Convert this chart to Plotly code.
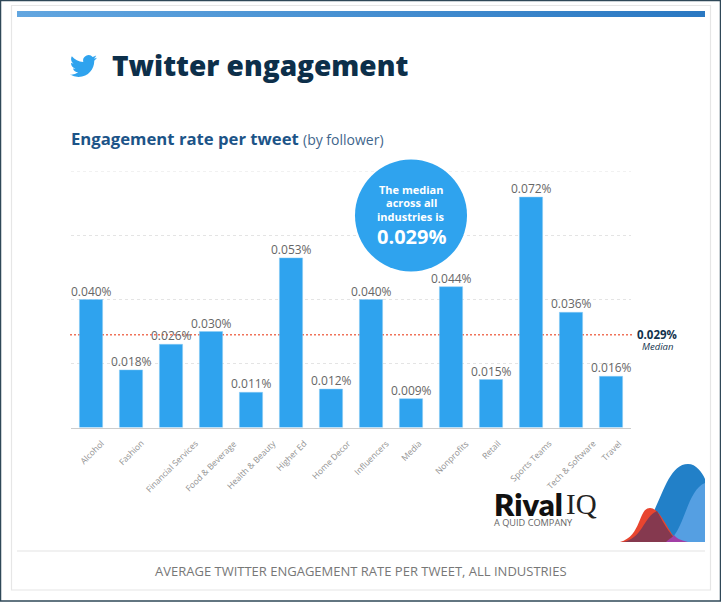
import base64

import plotly.graph_objects as go

WIDTH = 721
HEIGHT = 602

industries = [
    "Alcohol", "Fashion", "Financial Services", "Food & Beverage", "Health & Beauty",
    "Higher Ed", "Home Decor", "Influencers", "Media", "Nonprofits",
    "Retail", "Sports Teams", "Tech & Software", "Travel",
]
engagement = [0.040, 0.018, 0.026, 0.030, 0.011, 0.053, 0.012, 0.040, 0.009, 0.044, 0.015, 0.072, 0.036, 0.016]
median_rate = 0.029
y_ticks = [0, 0.02, 0.04, 0.06, 0.08]

BLUE = "#2fa3ee"
FONT = "Open Sans"


def px_x(x):
    return x / WIDTH


def px_y(y):
    return 1 - y / HEIGHT


def svg_uri(svg):
    return "data:image/svg+xml;base64," + base64.b64encode(svg.encode()).decode()


def note(x, y, text, size, color, anchor="center", weight=400, family=FONT):
    return dict(
        x=px_x(x), y=px_y(y), xref="paper", yref="paper", text=text, showarrow=False,
        xanchor=anchor, yanchor="middle", borderpad=0, borderwidth=0,
        font=dict(family=family, size=size, color=color, weight=weight),
    )


def picture(svg, x, y, w, h):
    return dict(
        source=svg_uri(svg), xref="paper", yref="paper", x=px_x(x), y=px_y(y),
        sizex=w / WIDTH, sizey=h / HEIGHT, xanchor="left", yanchor="top",
        sizing="stretch", layer="above",
    )


# the blue band along the top of the card
band_svg = """<svg xmlns="http://www.w3.org/2000/svg" width="688" height="6" viewBox="0 0 688 6">
<defs><linearGradient id="g"><stop offset="0" stop-color="#62a6e0"/><stop offset="1" stop-color="#2a78c2"/></linearGradient></defs>
<rect width="688" height="6" fill="url(#g)"/></svg>"""

bird_svg = """<svg xmlns="http://www.w3.org/2000/svg" width="27" height="27" viewBox="0 0 24 24">
<path fill="#2fa3ee" d="M23.953 4.57a10 10 0 01-2.825.775 4.958 4.958 0 002.163-2.723c-.951.555-2.005.959-3.127 1.184a4.92 4.92 0 00-8.384 4.482C7.69 8.095 4.067 6.13 1.64 3.162a4.822 4.822 0 00-.666 2.475c0 1.71.87 3.213 2.188 4.096a4.904 4.904 0 01-2.228-.616v.06a4.923 4.923 0 003.946 4.827 4.996 4.996 0 01-2.212.085 4.936 4.936 0 004.604 3.417 9.867 9.867 0 01-6.102 2.105c-.39 0-.779-.023-1.17-.067a13.995 13.995 0 007.557 2.209c9.053 0 13.998-7.496 13.998-13.985 0-.21 0-.42-.015-.63A9.935 9.935 0 0024 4.59z"/></svg>"""

# logo hills, drawn in a box whose origin is the page point (610, 460)
hills_svg = """<svg xmlns="http://www.w3.org/2000/svg" width="95" height="82" viewBox="0 0 95 82">
<path fill="#2280c8" d="M38 62 C52 40 58 4 78 4 C86 4 92 12 95 19 L95 82 L38 82 Z"/>
<path fill="#559fe2" d="M56 82 C74 76 76 30 95 23 L95 82 Z"/>
<path fill="#e8452f" d="M10 82 C32 76 28 48 40 48 C50 48 56 68 68 82 Z"/>
<path fill="#85394f" d="M12 82 C32 80 34 56 47 51 C52 60 58 72 68 82 Z"/>
<path fill="#a23fa6" d="M56 82 C60 78 62 78 64 75 C66 78 70 80 78 82 Z"/>
</svg>"""

fig = go.Figure(
    go.Bar(
        x=industries,
        y=engagement,
        width=0.58,
        marker=dict(color=BLUE, line=dict(color="#8ccdf5", width=0.5)),
        hoverinfo="skip",
    )
)

shapes = [
    # outer frame and card
    dict(type="rect", xref="paper", yref="paper", x0=px_x(0.5), x1=px_x(720.5), y0=px_y(0.5), y1=px_y(601),
         line=dict(color="#2f4858", width=1.5), layer="below"),
    dict(type="rect", xref="paper", yref="paper", x0=px_x(11.5), x1=px_x(710.5), y0=px_y(5.5), y1=px_y(590),
         line=dict(color="#e6e6e6", width=1.2), layer="below"),
    # caption rule
    dict(type="line", xref="paper", yref="paper", x0=px_x(17), x1=px_x(705), y0=px_y(551), y1=px_y(551),
         line=dict(color="#e3e3e3", width=1), layer="below"),
    # plotly drops the gridline at the very top of the range
    dict(type="line", xref="paper", yref="y", x0=px_x(71), x1=px_x(631), y0=y_ticks[-1], y1=y_ticks[-1],
         line=dict(color="#e4e4e4", width=1, dash="dot"), layer="below"),
    # median line sits behind the bars
    dict(type="line", xref="paper", yref="y", x0=px_x(70), x1=px_x(633), y0=median_rate, y1=median_rate,
         line=dict(color="#f0735a", width=1.5, dash="2px,2px"), layer="below"),
    # callout bubble
    dict(type="circle", xref="paper", yref="paper", x0=px_x(355), x1=px_x(467), y0=px_y(159.5), y1=px_y(271.5),
         fillcolor=BLUE, line=dict(width=0), layer="above"),
]

annotations = [
    note(112, 65, "Twitter engagement", 28, "#0d2f4a", "left", 800),
    note(71, 138.5, "Engagement rate per tweet", 16.7, "#1c5488", "left", 700),
    note(303, 139.5, "(by follower)", 14, "#3f668c", "left"),
    note(411, 189, "The median", 11, "white", weight=700),
    note(411, 203, "across all", 11, "white", weight=700),
    note(411, 216, "industries is", 11, "white", weight=700),
    note(411, 236, f"{median_rate:.3f}%", 20, "white", weight=700),
    note(657, 334, f"{median_rate:.3f}%", 11.5, "#12324d", weight=700),
    note(657, 347, "<i>Median</i>", 9.5, "#12324d"),
    note(494, 504, "Rival", 31, "#111111", "left", 800, "Lato"),
    note(566, 504, "IQ", 29, "#222222", "left", 400, "Liberation Serif"),
    note(494, 522, "A QUID COMPANY", 9.2, "#666666", "left"),
    note(360.5, 571, "AVERAGE TWITTER ENGAGEMENT RATE PER TWEET, ALL INDUSTRIES", 13, "#777777"),
]

# category labels are centred under their bars, hanging from one line
for name, value in zip(industries, engagement):
    annotations.append(
        dict(
            x=name, y=px_y(436.5), xref="x", yref="paper", text=name, textangle=-45, showarrow=False,
            xanchor="center", yanchor="top", borderpad=0,
            font=dict(family=FONT, size=8.5, color="#929292"),
        )
    )
    # value labels as annotations so the gap above the bar can be set
    annotations.append(
        dict(
            x=name, y=value, xref="x", yref="y", text=f"{value:.3f}%", showarrow=False,
            xanchor="center", yanchor="middle", yshift=8.5, borderpad=0,
            font=dict(family=FONT, size=12, color="#666666"),
        )
    )

fig.update_layout(
    width=WIDTH,
    height=HEIGHT,
    autosize=False,
    margin=dict(l=0, r=0, t=0, b=0),
    paper_bgcolor="white",
    plot_bgcolor="rgba(0,0,0,0)",
    showlegend=False,
    shapes=shapes,
    annotations=annotations,
    images=[
        picture(band_svg, 17, 11, 688, 6),
        picture(bird_svg, 70, 52.6, 27, 27),
        picture(hills_svg, 610, 460, 95, 82),
    ],
)
fig.update_xaxes(
    domain=[px_x(71), px_x(631)],
    range=[-0.5, len(industries) - 0.5],
    showticklabels=False,
    showline=True,
    linecolor="#cccccc",
    linewidth=1,
    ticks="",
    showgrid=False,
)
fig.update_yaxes(
    domain=[px_y(427.5), px_y(171.5)],
    range=[0, 0.08],
    tickvals=y_ticks,
    showticklabels=False,
    showgrid=True,
    gridcolor="#e4e4e4",
    gridwidth=1,
    griddash="dot",
    zeroline=False,
)

fig.write_html(
    "out.html",
    config=dict(displayModeBar=False),
    post_script="document.body.style.margin = '0'; document.body.style.overflow = 'hidden';",
)
